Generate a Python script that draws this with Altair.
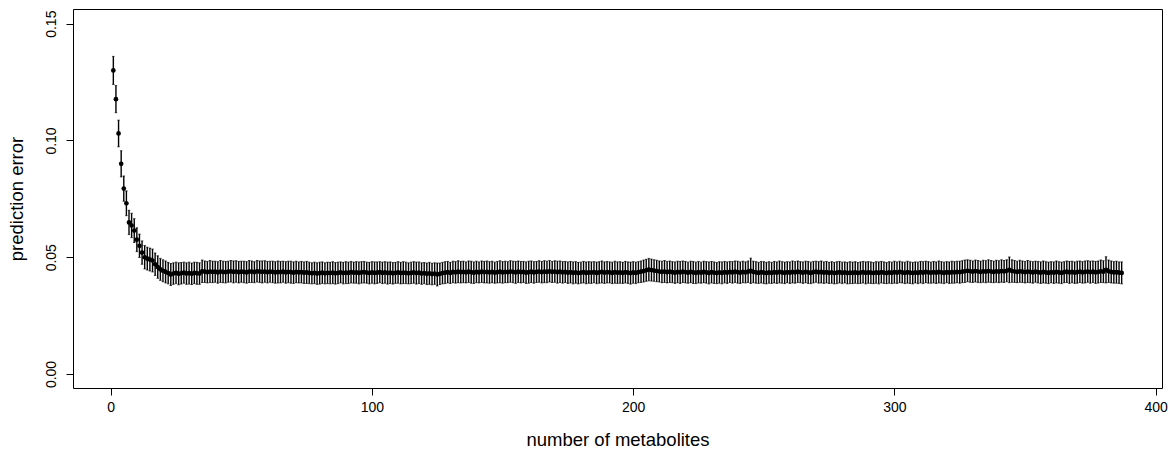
import altair as alt
import pandas as pd

n_metabolites = list(range(1, 388))

pred_error = [
    0.1300, 0.1177, 0.1030, 0.0900, 0.0794, 0.0731, 0.0649, 0.0636, 0.0614, 0.0575,
    0.0549, 0.0520, 0.0500, 0.0494, 0.0490, 0.0486, 0.0470, 0.0458, 0.0448, 0.0442,
    0.0437, 0.0432, 0.0426, 0.0430, 0.0433, 0.0429, 0.0431, 0.0434, 0.0430, 0.0432,
    0.0429, 0.0433, 0.0431, 0.0430,
    0.0440, 0.0438, 0.0436, 0.0439, 0.0437, 0.0438, 0.0435, 0.0439, 0.0437, 0.0436,
    0.0438, 0.0440, 0.0437, 0.0439, 0.0436, 0.0438, 0.0437, 0.0435, 0.0439, 0.0438,
    0.0436, 0.0440, 0.0438, 0.0437, 0.0439, 0.0436, 0.0438, 0.0437, 0.0435, 0.0437,
    0.0436, 0.0438, 0.0435, 0.0437, 0.0436, 0.0434, 0.0437, 0.0435, 0.0436, 0.0434,
    0.0435, 0.0433, 0.0431, 0.0433, 0.0430, 0.0432, 0.0434, 0.0431, 0.0433, 0.0432,
    0.0434, 0.0431, 0.0433, 0.0435, 0.0432, 0.0434, 0.0433, 0.0436, 0.0434, 0.0435,
    0.0433, 0.0435, 0.0436, 0.0434, 0.0432, 0.0435, 0.0433, 0.0434, 0.0436, 0.0433,
    0.0435, 0.0432, 0.0434, 0.0431, 0.0433, 0.0435, 0.0432, 0.0434, 0.0433, 0.0431,
    0.0433, 0.0435, 0.0432, 0.0434, 0.0430, 0.0432, 0.0429, 0.0431, 0.0428, 0.0430,
    0.0426, 0.0429, 0.0432, 0.0434, 0.0436, 0.0433, 0.0437, 0.0435, 0.0438, 0.0436,
    0.0437, 0.0435, 0.0438, 0.0436, 0.0434, 0.0437, 0.0435, 0.0438, 0.0436, 0.0437,
    0.0435, 0.0437, 0.0434, 0.0436, 0.0438, 0.0435, 0.0437, 0.0436, 0.0439, 0.0437,
    0.0435, 0.0438, 0.0436, 0.0437, 0.0434, 0.0436, 0.0438, 0.0435, 0.0437, 0.0439,
    0.0436, 0.0438, 0.0437, 0.0440, 0.0437, 0.0439, 0.0436, 0.0438, 0.0435, 0.0437,
    0.0434, 0.0436, 0.0433, 0.0435, 0.0432, 0.0434, 0.0436, 0.0433, 0.0435, 0.0434,
    0.0436, 0.0433, 0.0435, 0.0437, 0.0434, 0.0436, 0.0435, 0.0433, 0.0436, 0.0434,
    0.0435, 0.0433, 0.0436, 0.0434, 0.0432, 0.0435, 0.0433, 0.0436, 0.0438, 0.0441,
    0.0444, 0.0447, 0.0445, 0.0443, 0.0441, 0.0439, 0.0437, 0.0439, 0.0436, 0.0438,
    0.0436, 0.0434, 0.0437, 0.0435, 0.0438, 0.0436, 0.0434, 0.0437, 0.0435, 0.0433,
    0.0436, 0.0434, 0.0437, 0.0435, 0.0433, 0.0436, 0.0434, 0.0432, 0.0435, 0.0433,
    0.0436, 0.0434, 0.0437, 0.0435, 0.0438, 0.0436, 0.0434, 0.0437, 0.0435, 0.0438,
    0.0442, 0.0437, 0.0435, 0.0433, 0.0436, 0.0434, 0.0432, 0.0435, 0.0433, 0.0436,
    0.0434, 0.0437, 0.0435, 0.0433, 0.0436, 0.0434, 0.0437, 0.0435, 0.0438, 0.0436,
    0.0434, 0.0437, 0.0435, 0.0433, 0.0436, 0.0438, 0.0435, 0.0437, 0.0434, 0.0436,
    0.0433, 0.0435, 0.0432, 0.0434, 0.0436, 0.0433, 0.0435, 0.0432, 0.0434, 0.0433,
    0.0435, 0.0432, 0.0434, 0.0436, 0.0433, 0.0435, 0.0434, 0.0432, 0.0435, 0.0433,
    0.0436, 0.0434, 0.0432, 0.0435, 0.0433, 0.0436, 0.0434, 0.0437, 0.0435, 0.0433,
    0.0436, 0.0434, 0.0432, 0.0435, 0.0433, 0.0436, 0.0434, 0.0437, 0.0435, 0.0434,
    0.0436, 0.0434, 0.0437, 0.0435, 0.0433, 0.0436, 0.0434, 0.0436, 0.0435, 0.0437,
    0.0436, 0.0438, 0.0440, 0.0442, 0.0440, 0.0438, 0.0441, 0.0439, 0.0437, 0.0440,
    0.0438, 0.0441, 0.0439, 0.0437, 0.0440, 0.0438, 0.0441, 0.0439, 0.0442, 0.0446,
    0.0441, 0.0439, 0.0437, 0.0440, 0.0438, 0.0436, 0.0439, 0.0437, 0.0435, 0.0438,
    0.0436, 0.0434, 0.0437, 0.0435, 0.0433, 0.0436, 0.0434, 0.0437, 0.0435, 0.0433,
    0.0436, 0.0438, 0.0435, 0.0437, 0.0434, 0.0436, 0.0438, 0.0435, 0.0437, 0.0439,
    0.0436, 0.0438, 0.0435, 0.0437, 0.0440, 0.0438, 0.0446, 0.0440, 0.0437, 0.0435,
    0.0436, 0.0434, 0.0433,
]

error_sd = [
    0.0060, 0.0058, 0.0057, 0.0056, 0.0054, 0.0053, 0.0052, 0.0052, 0.0051, 0.0051,
    0.0050, 0.0050, 0.0050, 0.0049, 0.0049, 0.0049, 0.0048, 0.0048, 0.0047, 0.0047,
    0.0047, 0.0046, 0.0047, 0.0046, 0.0046, 0.0047, 0.0046, 0.0045, 0.0046, 0.0047,
    0.0046, 0.0046, 0.0047, 0.0046, 0.0048, 0.0046, 0.0046, 0.0047, 0.0046, 0.0045,
    0.0046, 0.0047, 0.0046, 0.0046, 0.0045, 0.0046, 0.0047, 0.0046, 0.0046, 0.0045,
    0.0046, 0.0046, 0.0047, 0.0046, 0.0045, 0.0046, 0.0046, 0.0047, 0.0046, 0.0046,
    0.0045, 0.0046, 0.0046, 0.0047, 0.0046, 0.0045, 0.0046, 0.0046, 0.0047, 0.0046,
    0.0046, 0.0045, 0.0046, 0.0046, 0.0047, 0.0046, 0.0045, 0.0046, 0.0046, 0.0047,
    0.0046, 0.0045, 0.0046, 0.0046, 0.0047, 0.0046, 0.0046, 0.0045, 0.0046, 0.0047,
    0.0046, 0.0046, 0.0045, 0.0046, 0.0047, 0.0046, 0.0046, 0.0045, 0.0046, 0.0046,
    0.0047, 0.0046, 0.0045, 0.0046, 0.0046, 0.0047, 0.0046, 0.0046, 0.0045, 0.0046,
    0.0046, 0.0047, 0.0046, 0.0045, 0.0046, 0.0046, 0.0047, 0.0046, 0.0046, 0.0045,
    0.0046, 0.0047, 0.0046, 0.0046, 0.0049, 0.0046, 0.0046, 0.0047, 0.0046, 0.0045,
    0.0046, 0.0046, 0.0047, 0.0046, 0.0046, 0.0045, 0.0046, 0.0047, 0.0046, 0.0046,
    0.0045, 0.0046, 0.0046, 0.0047, 0.0046, 0.0046, 0.0045, 0.0046, 0.0047, 0.0046,
    0.0046, 0.0045, 0.0046, 0.0046, 0.0047, 0.0046, 0.0046, 0.0045, 0.0046, 0.0047,
    0.0046, 0.0046, 0.0045, 0.0046, 0.0046, 0.0047, 0.0046, 0.0046, 0.0045, 0.0046,
    0.0047, 0.0046, 0.0046, 0.0045, 0.0046, 0.0046, 0.0047, 0.0046, 0.0046, 0.0045,
    0.0046, 0.0047, 0.0046, 0.0046, 0.0045, 0.0046, 0.0046, 0.0047, 0.0046, 0.0046,
    0.0045, 0.0046, 0.0047, 0.0046, 0.0046, 0.0045, 0.0046, 0.0046, 0.0047, 0.0046,
    0.0046, 0.0045, 0.0046, 0.0047, 0.0047, 0.0048, 0.0047, 0.0046, 0.0046, 0.0045,
    0.0046, 0.0047, 0.0046, 0.0046, 0.0045, 0.0046, 0.0046, 0.0047, 0.0046, 0.0046,
    0.0045, 0.0046, 0.0047, 0.0046, 0.0046, 0.0045, 0.0046, 0.0046, 0.0047, 0.0046,
    0.0046, 0.0045, 0.0046, 0.0047, 0.0046, 0.0046, 0.0045, 0.0046, 0.0046, 0.0047,
    0.0046, 0.0046, 0.0045, 0.0046, 0.0054, 0.0046, 0.0046, 0.0045, 0.0046, 0.0047,
    0.0046, 0.0046, 0.0045, 0.0046, 0.0046, 0.0047, 0.0046, 0.0046, 0.0045, 0.0046,
    0.0047, 0.0046, 0.0046, 0.0045, 0.0046, 0.0046, 0.0047, 0.0046, 0.0046, 0.0045,
    0.0046, 0.0047, 0.0046, 0.0046, 0.0045, 0.0046, 0.0046, 0.0047, 0.0046, 0.0046,
    0.0045, 0.0046, 0.0047, 0.0046, 0.0046, 0.0045, 0.0046, 0.0046, 0.0047, 0.0046,
    0.0046, 0.0045, 0.0046, 0.0047, 0.0046, 0.0046, 0.0045, 0.0046, 0.0046, 0.0047,
    0.0046, 0.0046, 0.0045, 0.0046, 0.0047, 0.0046, 0.0046, 0.0045, 0.0046, 0.0046,
    0.0047, 0.0046, 0.0046, 0.0045, 0.0046, 0.0046, 0.0047, 0.0046, 0.0046, 0.0045,
    0.0046, 0.0047, 0.0046, 0.0046, 0.0047, 0.0047, 0.0048, 0.0047, 0.0047, 0.0046,
    0.0047, 0.0047, 0.0046, 0.0047, 0.0047, 0.0048, 0.0047, 0.0046, 0.0047, 0.0047,
    0.0048, 0.0047, 0.0047, 0.0055, 0.0048, 0.0047, 0.0046, 0.0047, 0.0046, 0.0046,
    0.0047, 0.0046, 0.0046, 0.0045, 0.0046, 0.0046, 0.0047, 0.0046, 0.0046, 0.0045,
    0.0046, 0.0047, 0.0046, 0.0046, 0.0045, 0.0046, 0.0047, 0.0046, 0.0046, 0.0047,
    0.0046, 0.0046, 0.0047, 0.0046, 0.0047, 0.0046, 0.0047, 0.0047, 0.0048, 0.0047,
    0.0056, 0.0048, 0.0047, 0.0046, 0.0047, 0.0046, 0.0047,
]

x_ticks = [0, 100, 200, 300, 400]
y_ticks = [0.0, 0.05, 0.10, 0.15]

df = pd.DataFrame({"n": n_metabolites, "err": pred_error, "sd": error_sd})
df["lo"] = df["err"] - df["sd"]
df["hi"] = df["err"] + df["sd"]

FONT = "Liberation Sans"
x_scale = alt.Scale(domain=[-14.44, 402.44], nice=False, zero=False)
y_scale = alt.Scale(domain=[-0.006, 0.1563], nice=False, zero=False)

base = alt.Chart(df)

bars = base.mark_rule(color="black", strokeWidth=1.4).encode(
    x=alt.X(
        "n:Q",
        scale=x_scale,
        axis=alt.Axis(
            values=x_ticks,
            format="d",
            title="number of metabolites",
            labelPadding=5,
            titleBaseline="alphabetic",
            titleY=57,
        ),
    ),
    y=alt.Y(
        "lo:Q",
        scale=y_scale,
        axis=alt.Axis(
            values=y_ticks,
            format=".2f",
            title="prediction error",
            labelAngle=270,
            labelAlign="center",
            labelBaseline="alphabetic",
            labelPadding=11,
            titleAngle=270,
            titleBaseline="alphabetic",
            titleAlign="center",
            titleX=-51,
            titleY=189.5,
        ),
    ),
    y2="hi:Q",
)

caps_hi = base.mark_tick(color="black", thickness=1, size=2.5, orient="horizontal").encode(
    x="n:Q", y="hi:Q"
)
caps_lo = base.mark_tick(color="black", thickness=1, size=2.5, orient="horizontal").encode(
    x="n:Q", y="lo:Q"
)

pts = base.mark_circle(color="black", opacity=1, size=22).encode(
    x="n:Q",
    y="err:Q",
)

chart = (
    alt.layer(bars, caps_hi, caps_lo, pts)
    .properties(
        width=1089,
        height=379,
        autosize=alt.AutoSizeParams(type="none"),
        padding={"left": 73, "top": 9, "right": 11, "bottom": 64},
    )
    .configure_view(stroke="black", strokeWidth=1)
    .configure_axis(
        grid=False,
        domain=False,
        tickColor="black",
        tickSize=7,
        tickWidth=1,
        labelColor="black",
        titleColor="black",
        labelFont=FONT,
        titleFont=FONT,
        labelFontSize=14,
        titleFontSize=18.5,
        titleFontWeight="normal",
    )
)

chart.save("out.html", embed_options={"renderer": "svg", "actions": False})
